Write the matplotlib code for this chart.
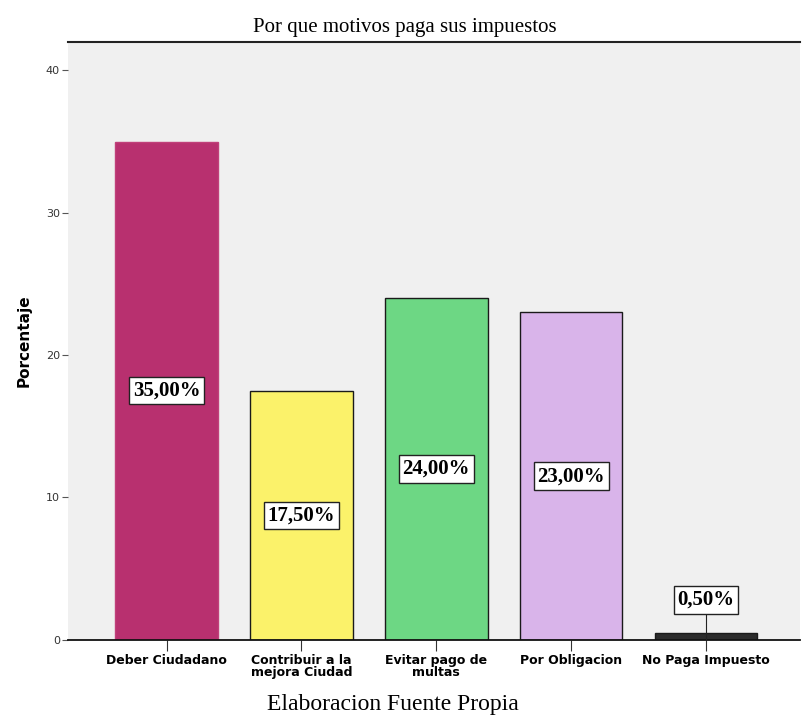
import matplotlib
matplotlib.use("Agg")
import matplotlib.pyplot as plt

categories = ["Deber Ciudadano", "Contribuir a la\nmejora Ciudad", "Evitar pago de\nmultas",
              "Por Obligacion", "No Paga Impuesto"]
values = [35.0, 17.5, 24.0, 23.0, 0.5]
value_labels = ["35,00%", "17,50%", "24,00%", "23,00%", "0,50%"]
colors = ["#b8306f", "#fbf26a", "#6dd784", "#d9b4ea", "#2b2b2b"]
edge_colors = ["#c0407a", "#1a1a1a", "#1a1a1a", "#1a1a1a", "#1a1a1a"]
yticks = [0, 10, 20, 30, 40]

fig = plt.figure(figsize=(8.02, 7.23), dpi=100)
ax = fig.add_axes([0.085, 0.115, 0.913, 0.827])
ax.set_facecolor("#f0f0f0")

x = list(range(len(categories)))
ax.bar(x, values, width=0.76, color=colors, edgecolor=edge_colors, linewidth=1.0, zorder=2)

ax.set_xlim(-0.73, 4.70)
ax.set_ylim(0, 42)
ax.set_yticks(yticks)
ax.set_yticklabels([str(t) for t in yticks], fontsize=8, color="#333333")
ax.set_xticks(x)
ax.set_xticklabels(categories, fontsize=9, fontweight="bold", family="DejaVu Sans Condensed",
                   linespacing=0.95)
ax.tick_params(axis="y", length=4, width=0.8, color="#555555", pad=2)
ax.tick_params(axis="x", length=8, width=0.8, color="#333333", pad=2)

for side in ["left", "right"]:
    ax.spines[side].set_visible(False)
ax.spines["top"].set_color("#222222")
ax.spines["top"].set_linewidth(1.5)
ax.spines["bottom"].set_color("#111111")
ax.spines["bottom"].set_linewidth(1.3)

box = dict(boxstyle="square,pad=0.18", facecolor="white", edgecolor="#222222", linewidth=1.0)
for xi, v, lab in zip(x, values, value_labels):
    if v < 3:
        ypos = v + 2.3
        ax.plot([xi, xi], [0, ypos], color="#222222", linewidth=0.8, zorder=3)
        ax.text(xi, ypos, lab, ha="center", va="center", fontsize=15, fontweight="bold",
                family="Liberation Serif", bbox=box, zorder=4)
    else:
        ax.text(xi, v / 2, lab, ha="center", va="center", fontsize=15, fontweight="bold",
                family="Liberation Serif", bbox=box, zorder=4)

ax.set_ylabel("Porcentaje", fontsize=11, fontweight="bold", labelpad=10)
fig.text(0.505, 0.962, "Por que motivos paga sus impuestos", ha="center", va="center",
         fontsize=15, family="Liberation Serif")
fig.text(0.49, 0.025, "Elaboracion Fuente Propia", ha="center", va="center",
         fontsize=17, family="Liberation Serif")

fig.savefig("out.png", dpi=100, facecolor="white")
